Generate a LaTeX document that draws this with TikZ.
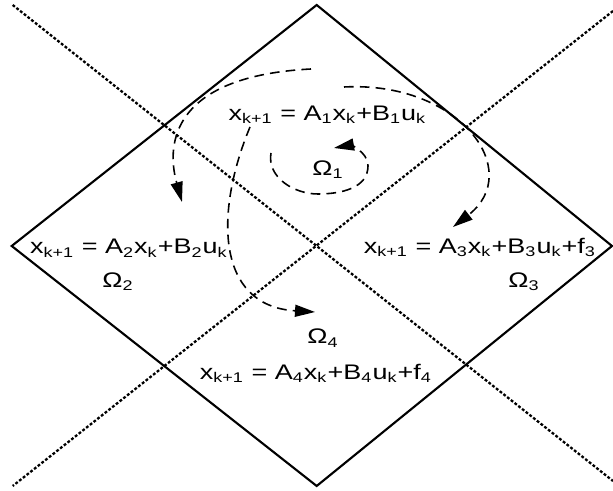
\documentclass[tikz,border=0pt]{standalone}
\usepackage{fontspec}
\setmainfont{Liberation Sans}
\usepackage{tikz}
\usetikzlibrary{arrows.meta,positioning,calc}
\newcommand{\subs}[1]{\textsubscript{#1}}

\begin{document}
\begin{tikzpicture}[
    eqn/.style={font=\fontsize{12}{14}\selectfont, xscale=1.28, inner sep=0pt, anchor=base},
    edge/.style={line width=1.2pt, line join=miter},
    split/.style={line width=1.3pt, dash pattern=on 1.6pt off 1.1pt},
    traj/.style={line width=0.9pt, dash pattern=on 5.5pt off 3.5pt, -{Triangle[length=4mm,width=2.4mm]}}]

  \useasboundingbox (0,0) rectangle (12.26,9.82);

  % corners of the region
  \coordinate (top) at (6.334,9.72);
  \coordinate (left) at (0.234,4.9);
  \coordinate (right) at (12.24,4.9);
  \coordinate (bottom) at (6.334,0.1);
  \coordinate (nw) at (0.254,9.72);
  \coordinate (se) at (12.26,0.2);
  \coordinate (ne) at (12.26,9.6);
  \coordinate (sw) at (0.254,0.1);

  \draw[edge] (top) -- (right) -- (bottom) -- (left) -- cycle;
  \draw[split] (nw) -- (se);
  \draw[split] (ne) -- (sw);

  % dynamics in each region
  \node[eqn] (E1) at (6.55,7.41) {x\subs{k+1} = A\subs{1}x\subs{k}+B\subs{1}u\subs{k}};
  \node[eqn] (O1) at (6.56,6.31) {Ω\subs{1}};
  \node[eqn] (E2) at (2.58,4.74) {x\subs{k+1} = A\subs{2}x\subs{k}+B\subs{2}u\subs{k}};
  \node[eqn] (O2) at (2.36,4.07) {Ω\subs{2}};
  \node[eqn] (E3) at (9.6,4.75) {x\subs{k+1} = A\subs{3}x\subs{k}+B\subs{3}u\subs{k}+f\subs{3}};
  \node[eqn] (O3) at (10.48,4.07) {Ω\subs{3}};
  \node[eqn] (O4) at (6.46,2.94) {Ω\subs{4}};
  \node[eqn] (E4) at (6.32,2.23) {x\subs{k+1} = A\subs{4}x\subs{k}+B\subs{4}u\subs{k}+f\subs{4}};

  % trajectories
  \coordinate (a0) at (6.22,8.44);
  \coordinate (a1) at (3.64,5.78);
  \coordinate (b0) at (5.0,7.28);
  \coordinate (b1) at (6.3,3.58);
  \coordinate (c0) at (6.88,8.08);
  \coordinate (c1) at (9.06,5.28);
  \coordinate (d0) at (5.42,6.76);
  \coordinate (d1) at (6.68,6.86);

  \draw[traj] (a0) .. controls (3.5,8.3) and (3.3,7.0) .. (a1);
  \draw[traj] (b0) .. controls (4.3,5.6) and (4.3,3.7) .. (b1);
  \draw[traj] (c0) .. controls (9.2,8.2) and (10.5,6.4) .. (c1);
  \draw[traj] (d0) to[out=260,in=180] (6.36,5.94) to[out=0,in=270] (7.36,6.5)
    to[out=90,in=10] (d1);
\end{tikzpicture}
\end{document}
